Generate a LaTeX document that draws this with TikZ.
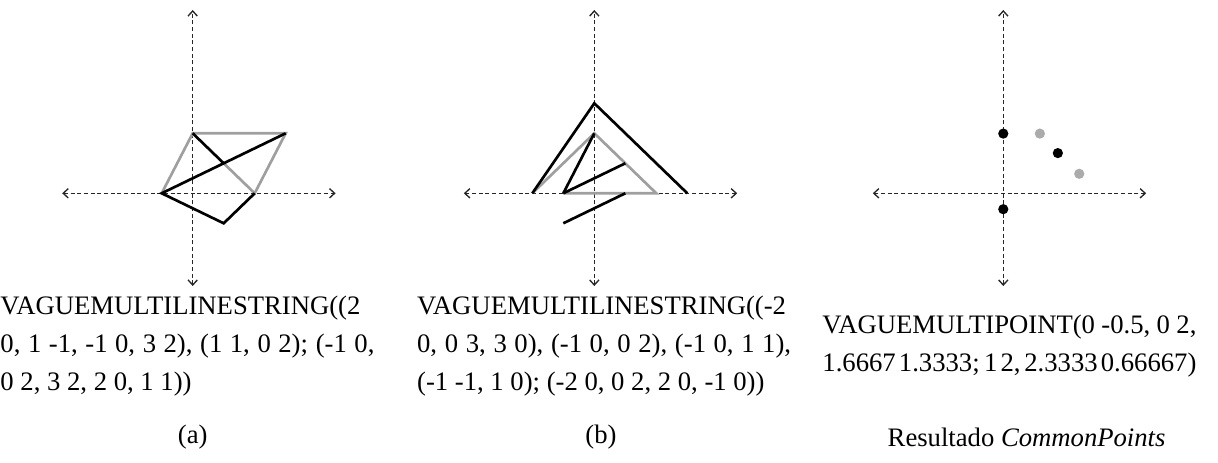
\documentclass[tikz,border=0pt]{standalone}
\usepackage{fontspec}
\setmainfont{Liberation Serif}
\usetikzlibrary{arrows.meta}
\newcommand\folga{\spaceskip=.25em plus .2em minus .15em\relax}
\tikzset{
	eixos/.pic={
		\draw[line width=.6pt, black!85, dash pattern=on 1.8pt off 1.2pt, {Straight Barb[length=2.3pt,width=4.2pt]}-{Straight Barb[length=2.3pt,width=4.2pt]}]
		(-4.21,0) -- (4.61,0);
		\draw[line width=.6pt, black!85, dash pattern=on 1.8pt off 1.2pt, {Straight Barb[length=2.3pt,width=4.2pt]}-{Straight Barb[length=2.3pt,width=4.2pt]}]
		(0,-3.09) -- (0,6.11);
	},
	kernel/.style={line width=1.2pt, line join=miter},
	conj/.style={line width=1.2pt, gray!75},
	texto/.style={anchor=west, inner sep=0pt, text width=168.3pt, align=justify,
		font=\fontsize{12}{17.1}\selectfont},
	legenda/.style={inner sep=0pt, font=\fontsize{12}{17.1}\selectfont},
}

\begin{document}
\begin{tikzpicture}[x=13.95pt, y=13.5pt]
\useasboundingbox (-6.216,-8.99) rectangle (33.074,6.443);

% (a)
\path (0,0) pic {eixos};
\draw[conj] (-1,0) -- (0,2) -- (3,2) -- (2,0) -- (1,1);
\draw[kernel] (2,0) -- (1,-1) -- (-1,0) -- (3,2);
\draw[kernel] (1,1) -- (0,2);

% (b)
\begin{scope}[shift={(12.955,0)}]
\path (0,0) pic {eixos};
\draw[conj] (-2,0) -- (0,2) -- (2,0) -- (-1,0);
\draw[kernel] (-2,0) -- (0,3) -- (3,0);
\draw[kernel] (-1,0) -- (0,2);
\draw[kernel] (-1,0) -- (1,1);
\draw[kernel] (-1,-1) -- (1,0);
\end{scope}

% (c)
\begin{scope}[shift={(26.148,0)}]
\path (0,0) pic {eixos};
\fill (0,-0.53) circle (2.3pt);
\fill (0,1.99) circle (2.3pt);
\fill (1.76,1.34) circle (2.3pt);
\fill[black!33] (1.18,1.99) circle (2.3pt);
\fill[black!33] (2.45,0.65) circle (2.3pt);
\end{scope}

% the texts
\node[texto] (ta) at (-6.216,-5.09) {VAGUEMULTILINESTRING((2\linebreak 0, 1 -1, -1 0, 3 2), (1 1, 0 2); (-1 0,\linebreak 0 2, 3 2, 2 0, 1 1))};
\node[texto] (tb) at (7.226,-5.09) {VAGUEMULTILINESTRING((-2\linebreak 0, 0 3, 3 0), (-1 0, 0 2), (-1 0, 1 1),\linebreak (-1 -1, 1 0); (-2 0, 0 2, 2 0, -1 0))};
\node[texto] (tc) at (20.3,-5.09) {\folga VAGUEMULTIPOINT(0 -0.5, 0 2,\linebreak 1.6667 1.3333; 1 2, 2.3333 0.66667)};

% the captions
\node[legenda] (la) at (0,-8.12) {(a)};
\node[legenda] (lb) at (13.17,-8.12) {(b)};
\node[legenda] (lc) at (26.9,-8.12) {Resultado \textit{CommonPoints}};
\end{tikzpicture}
\end{document}
